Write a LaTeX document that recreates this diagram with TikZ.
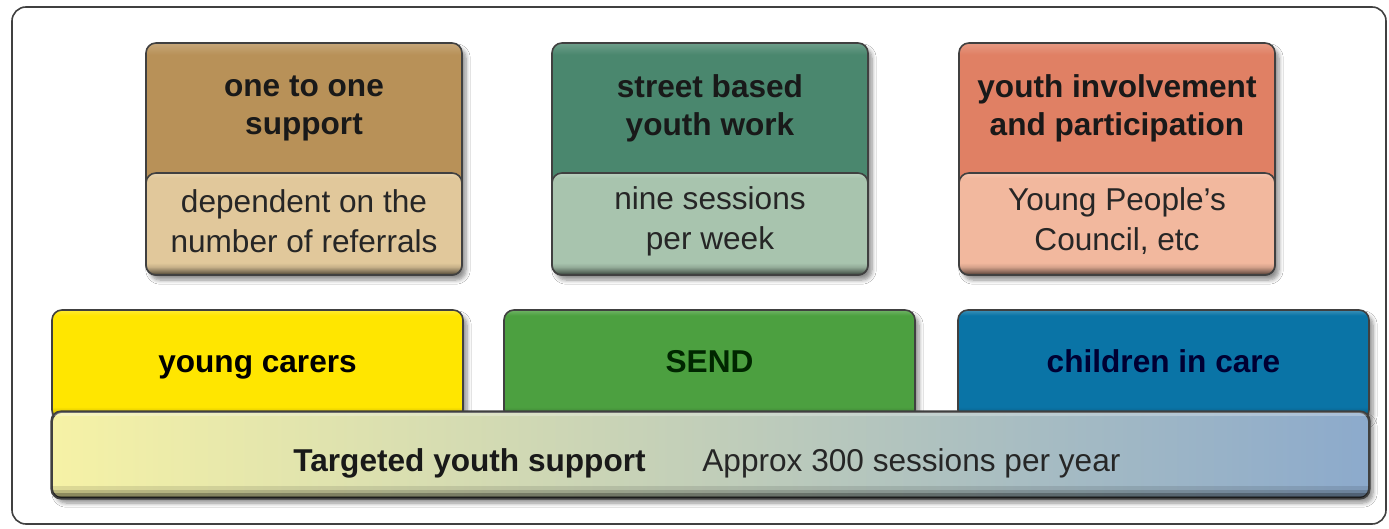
\documentclass[tikz,border=0pt]{standalone}
\usepackage{fontspec}
\setmainfont{Liberation Sans}
\usetikzlibrary{shadows.blur}
\definecolor{tanH}{HTML}{B89158}
\definecolor{tanL}{HTML}{E1C89B}
\definecolor{tealH}{HTML}{4A876E}
\definecolor{tealL}{HTML}{A8C4AE}
\definecolor{salH}{HTML}{E08064}
\definecolor{salL}{HTML}{F2B89E}
\definecolor{yelC}{HTML}{FFE600}
\definecolor{grnC}{HTML}{4CA040}
\definecolor{bluC}{HTML}{0A74A6}
\definecolor{barL}{HTML}{F6F2A6}
\definecolor{barM}{HTML}{ADC990}
\definecolor{barR}{HTML}{8CAACC}
\colorlet{bevcol}{white}
\pgfdeclareverticalshading[bevcol]{bevel}{100bp}{color(0bp)=(bevcol!30!black); color(25bp)=(bevcol!30!black); color(26.5bp)=(bevcol!55!black); color(29bp)=(bevcol!88!black); color(31bp)=(bevcol); color(72.5bp)=(bevcol); color(75bp)=(bevcol!80!white); color(100bp)=(bevcol!80!white)}
\tikzset{
  box/.style={draw=black!75, line width=0.8pt, rounded corners=5pt, inner sep=0pt,
    blur shadow={shadow xshift=2pt, shadow yshift=-2.5pt, shadow blur steps=6, shadow opacity=45}},
  bev/.style={/utils/exec={\colorlet{bevcol}{#1}}, shading=bevel},
  topbox/.style={box, minimum width=158pt, minimum height=116pt},
  lowbox/.style={draw=black!75, line width=0.8pt, rounded corners=5pt, inner sep=0pt, minimum width=158pt, minimum height=51pt},
  grpbox/.style={box, minimum width=205.5pt, minimum height=55pt},
  head/.style={font=\fontsize{15.8}{19}\selectfont\bfseries, align=center, text=black!90},
  sub/.style={font=\fontsize{15.8}{20}\selectfont, align=center, text=black!85},
}
\begin{document}
\begin{tikzpicture}[x=0.5pt,y=-0.5pt]
\useasboundingbox (0,0) rectangle (1389,529);
\node[draw=black!75, line width=0.8pt, rounded corners=7pt, minimum width=687pt, minimum height=258.5pt, fill=white] (frame) at (699,265.5) {};
% top boxes
\node[topbox, bev=tanH] (b1) at (304,159) {};
\node[lowbox, bev=tanL] (l1) at (304,224) {};
\node[head] (t1) at (304,108) {one to one\\support};
\node[sub] (s1) at (304,221) {dependent on the\\number of referrals};
\node[topbox, bev=tealH] (b2) at (710,159) {};
\node[lowbox, bev=tealL] (l2) at (710,224) {};
\node[head] (t2) at (710,108) {street based\\youth work};
\node[sub] (s2) at (710,221) {nine sessions\\per week};
\node[topbox, bev=salH] (b3) at (1117,159) {};
\node[lowbox, bev=salL] (l3) at (1117,224) {};
\node[head] (t3) at (1117,108) {youth involvement\\and participation};
\node[sub] (s3) at (1117,221) {Young People's\\Council, etc};
% bottom group boxes
\node[grpbox, bev=yelC] (g1) at (257.5,365) {};
\node[grpbox, bev=grnC] (g2) at (709.5,365) {};
\node[grpbox, bev=bluC] (g3) at (1163.5,365) {};
\node[head, text=black, anchor=base] (gt1) at (257.5,373) {young carers};
\node[head, text=black!85!green, anchor=base] (gt2) at (709.5,373) {SEND};
\node[head, text=black!80!blue, anchor=base] (gt3) at (1163.5,373) {children in care};
% bar
\node[box, minimum width=658.5pt, minimum height=43pt, left color=barL, middle color=barM, right color=barR] (bar) at (710.5,455) {};
\begin{scope}
  \clip[rounded corners=5pt] (bar.south west) rectangle (bar.north east);
  \fill[white, opacity=0.25] (52,412) rectangle (1369,416);
  \fill[black, opacity=0.10] (52,486) rectangle (1369,498);
  \fill[black, opacity=0.15] (52,490) rectangle (1369,498);
  \fill[black, opacity=0.25] (52,493) rectangle (1369,498);
  \fill[black, opacity=0.35] (52,496) rectangle (1369,498);
\end{scope}
\draw[black!75, line width=0.8pt, rounded corners=5pt] (bar.south west) rectangle (bar.north east);
\node[head, anchor=west, inner sep=0pt] (bt1) at (293,463) {Targeted youth support};
\node[sub, anchor=west, inner sep=0pt] (bt2) at (702,463) {Approx 300 sessions per year};
\end{tikzpicture}
\end{document}
